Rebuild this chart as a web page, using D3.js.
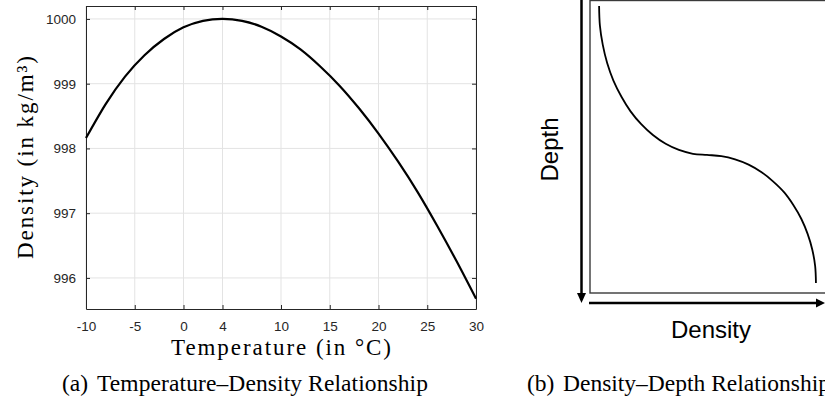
<!DOCTYPE html>
<html>
<head>
<meta charset="utf-8">
<script src="https://cdn.jsdelivr.net/npm/d3@7"></script>
<style>
  html, body { margin: 0; padding: 0; background: #fff; overflow: hidden; }
  svg { display: block; }
</style>
</head>
<body>
<svg id="fig" width="825" height="397"></svg>
<script>
// (a) density of water against temperature
const temperature = [-10, -8, -6, -4, -2, 0, 2, 4, 6, 8, 10, 12, 14, 16, 18, 20, 22, 24, 26, 28, 30];
const waterDensity = [998.16, 998.68, 999.11, 999.44, 999.69, 999.87, 999.97, 1000.00, 999.97, 999.88,
                      999.73, 999.53, 999.27, 998.97, 998.62, 998.23, 997.80, 997.33, 996.81, 996.26, 995.68];
const tempTicks = [-10, -5, 0, 4, 10, 15, 20, 25, 30];
const densityTicks = [996, 997, 998, 999, 1000];

// (b) schematic density profile with depth (arbitrary units, 0-100)
const profileDensity = [3.5, 3.8, 4.9, 6.6, 9.0, 12.1, 15.6, 19.7, 24.2, 29.1, 34.2, 39.6, 45.0,
                        50.5, 55.8, 61.0, 66.0, 70.5, 74.7, 78.2, 81.3, 83.7, 85.5, 86.6, 86.9];
const profileDepth = [1.9, 8.5, 15.1, 21.4, 27.4, 32.9, 37.9, 42.3, 46.0, 49.0, 51.1, 52.4, 52.8,
                      53.2, 54.3, 56.1, 58.7, 61.9, 65.6, 69.9, 74.7, 79.8, 85.2, 90.8, 96.6];

const svg = d3.select("#fig");
const axisColor = "#262626";
const serif = "'Liberation Serif', 'Times New Roman', serif";
const sans = "'Liberation Sans', Arial, Helvetica, sans-serif";
const tickFmt = d => String(d); // plain hyphen-minus on negative labels

// ---------- panel (a) ----------
const A = { left: 86, right: 476, top: 6, bottom: 309 };
const x = d3.scaleLinear().domain([-10, 30]).range([A.left, A.right]);
const y = d3.scaleLinear().domain([995.52, 1000.2]).range([A.bottom, A.top]);

const gA = svg.append("g");

// grid
gA.append("g").selectAll("line").data(tempTicks).join("line")
  .attr("x1", d => x(d)).attr("x2", d => x(d))
  .attr("y1", A.top).attr("y2", A.bottom)
  .attr("stroke", "#e3e3e3").attr("stroke-width", 1);
gA.append("g").selectAll("line").data(densityTicks).join("line")
  .attr("x1", A.left).attr("x2", A.right)
  .attr("y1", d => y(d)).attr("y2", d => y(d))
  .attr("stroke", "#e3e3e3").attr("stroke-width", 1);

// axes with inward ticks on all four sides
const tickLen = 4;
function styleAxis(g) {
  g.select(".domain").attr("stroke", axisColor).attr("stroke-width", 1);
  g.selectAll(".tick line").attr("stroke", axisColor).attr("stroke-width", 1);
  g.selectAll(".tick text").attr("fill", axisColor)
    .attr("font-family", sans).attr("font-size", 13.5);
}
gA.append("g").attr("transform", `translate(0,${A.bottom})`)
  .call(d3.axisBottom(x).tickValues(tempTicks).tickSizeInner(-tickLen).tickSizeOuter(0).tickPadding(12)
        .tickFormat(tickFmt))
  .call(styleAxis);
gA.append("g").attr("transform", `translate(0,${A.top})`)
  .call(d3.axisTop(x).tickValues(tempTicks).tickSizeInner(-tickLen).tickSizeOuter(0).tickFormat(""))
  .call(styleAxis);
gA.append("g").attr("transform", `translate(${A.left},0)`)
  .call(d3.axisLeft(y).tickValues(densityTicks).tickSizeInner(-tickLen).tickSizeOuter(0).tickPadding(10)
        .tickFormat(tickFmt))
  .call(styleAxis);
gA.append("g").attr("transform", `translate(${A.right},0)`)
  .call(d3.axisRight(y).tickValues(densityTicks).tickSizeInner(-tickLen).tickSizeOuter(0).tickFormat(""))
  .call(styleAxis);

// curve
const lineA = d3.line().x((d, i) => x(temperature[i])).y(d => y(d)).curve(d3.curveNatural);
gA.append("path").datum(waterDensity)
  .attr("d", lineA).attr("fill", "none").attr("stroke", "#000").attr("stroke-width", 2.2)
  .attr("stroke-linejoin", "round");

// axis titles
gA.append("text")
  .attr("x", (A.left + A.right) / 2).attr("y", 355)
  .attr("text-anchor", "middle").attr("font-family", serif).attr("font-size", 23)
  .attr("textLength", 220).attr("lengthAdjust", "spacing")
  .attr("fill", "#000").text("Temperature (in \u00B0C)");
gA.append("text")
  .attr("transform", `translate(33,${(A.top + A.bottom) / 2}) rotate(-90)`)
  .attr("text-anchor", "middle").attr("font-family", serif).attr("font-size", 23)
  .attr("textLength", 203).attr("lengthAdjust", "spacing")
  .attr("fill", "#000").text("Density (in kg/m\u00B3)");

// caption (a)
gA.append("text").attr("x", 62).attr("y", 391)
  .attr("font-family", serif).attr("font-size", 23.5).attr("fill", "#000").text("(a)");
gA.append("text").attr("x", 97).attr("y", 391)
  .attr("font-family", serif).attr("font-size", 23.5).attr("fill", "#000")
  .attr("textLength", 331).attr("lengthAdjust", "spacing")
  .text("Temperature\u2013Density Relationship");

// ---------- panel (b) ----------
const B = { left: 590, right: 850, top: 0.5, bottom: 293 };
const px = d3.scaleLinear().domain([0, 100]).range([B.left, B.right]);
const py = d3.scaleLinear().domain([0, 100]).range([B.top, B.bottom]);

const gB = svg.append("g");

gB.append("rect")
  .attr("x", px(0)).attr("y", py(0))
  .attr("width", px(100) - px(0)).attr("height", py(100) - py(0))
  .attr("fill", "none").attr("stroke", "#3a3a3a").attr("stroke-width", 1.4);

const lineB = d3.line().x((d, i) => px(profileDensity[i])).y(d => py(d)).curve(d3.curveCatmullRom);
gB.append("path").datum(profileDepth)
  .attr("d", lineB).attr("fill", "none").attr("stroke", "#000").attr("stroke-width", 1.8);

// direction arrows: depth increases downward, density to the right
const arrowX = px(0) - 8.5;
const arrowY = py(100) + 10;
gB.append("line").attr("x1", arrowX).attr("x2", arrowX).attr("y1", 0).attr("y2", arrowY - 8)
  .attr("stroke", "#000").attr("stroke-width", 2.5);
gB.append("path")
  .attr("d", `M${arrowX - 4.5},${arrowY - 10} L${arrowX + 4.5},${arrowY - 10} L${arrowX},${arrowY} Z`)
  .attr("fill", "#000");
const arrowEnd = 825;
gB.append("line").attr("x1", px(0) - 1).attr("x2", arrowEnd - 8).attr("y1", arrowY).attr("y2", arrowY)
  .attr("stroke", "#000").attr("stroke-width", 2.5);
gB.append("path")
  .attr("d", `M${arrowEnd - 9},${arrowY - 4.5} L${arrowEnd - 9},${arrowY + 4.5} L${arrowEnd},${arrowY} Z`)
  .attr("fill", "#000");

gB.append("text")
  .attr("transform", `translate(557.5,149.5) rotate(-90)`)
  .attr("text-anchor", "middle").attr("font-family", sans).attr("font-size", 24)
  .attr("fill", "#000").text("Depth");
gB.append("text")
  .attr("x", 711).attr("y", 337.5)
  .attr("text-anchor", "middle").attr("font-family", sans).attr("font-size", 24)
  .attr("fill", "#000").text("Density");

// caption (b)
gB.append("text").attr("x", 527).attr("y", 391)
  .attr("font-family", serif).attr("font-size", 23.5).attr("fill", "#000").text("(b)");
gB.append("text").attr("x", 563).attr("y", 391)
  .attr("font-family", serif).attr("font-size", 23.5).attr("fill", "#000")
  .text("Density\u2013Depth Relationship");
</script>
</body>
</html>
